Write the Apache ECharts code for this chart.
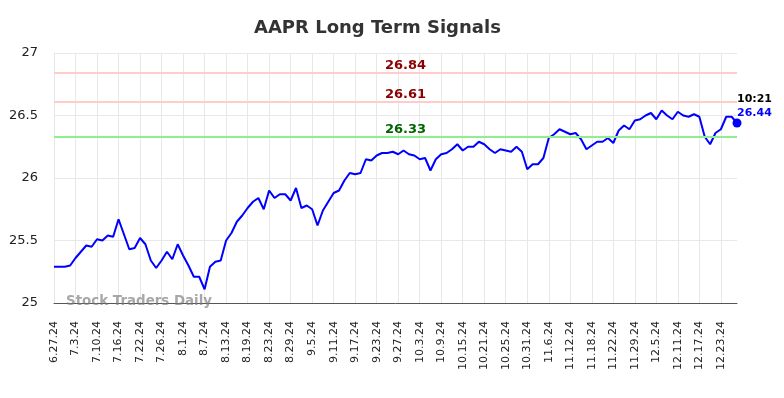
<!DOCTYPE html>
<html>
<head>
<meta charset="utf-8">
<title>AAPR Long Term Signals</title>
<script src="https://cdn.jsdelivr.net/npm/echarts@6/dist/echarts.min.js"></script>
<style>
    html, body { margin: 0; padding: 0; background: #fff; }
    #chart { width: 784px; height: 398px; }
</style>
</head>
<body>
<div id="chart"></div>
<script>
// trading days shown on the x axis
const dates = [
    "6.27.24", "6.28.24",
    "7.1.24", "7.2.24", "7.3.24", "7.5.24", "7.8.24", "7.9.24", "7.10.24", "7.11.24", "7.12.24",
    "7.15.24", "7.16.24", "7.17.24", "7.18.24", "7.19.24", "7.22.24", "7.23.24", "7.24.24", "7.25.24",
    "7.26.24", "7.29.24", "7.30.24", "7.31.24",
    "8.1.24", "8.2.24", "8.5.24", "8.6.24", "8.7.24", "8.8.24", "8.9.24", "8.12.24", "8.13.24",
    "8.14.24", "8.15.24", "8.16.24", "8.19.24", "8.20.24", "8.21.24", "8.22.24", "8.23.24", "8.26.24",
    "8.27.24", "8.28.24", "8.29.24", "8.30.24",
    "9.3.24", "9.4.24", "9.5.24", "9.6.24", "9.9.24", "9.10.24", "9.11.24", "9.12.24", "9.13.24",
    "9.16.24", "9.17.24", "9.18.24", "9.19.24", "9.20.24", "9.23.24", "9.24.24", "9.25.24", "9.26.24",
    "9.27.24", "9.30.24",
    "10.1.24", "10.2.24", "10.3.24", "10.4.24", "10.7.24", "10.8.24", "10.9.24", "10.10.24", "10.11.24",
    "10.14.24", "10.15.24", "10.16.24", "10.17.24", "10.18.24", "10.21.24", "10.22.24", "10.23.24",
    "10.24.24", "10.25.24", "10.28.24", "10.29.24", "10.30.24", "10.31.24",
    "11.1.24", "11.4.24", "11.5.24", "11.6.24", "11.7.24", "11.8.24", "11.11.24", "11.12.24", "11.13.24",
    "11.14.24", "11.15.24", "11.18.24", "11.19.24", "11.20.24", "11.21.24", "11.22.24", "11.25.24",
    "11.26.24", "11.27.24", "11.29.24",
    "12.2.24", "12.3.24", "12.4.24", "12.5.24", "12.6.24", "12.9.24", "12.10.24", "12.11.24", "12.12.24",
    "12.13.24", "12.16.24", "12.17.24", "12.18.24", "12.19.24", "12.20.24", "12.23.24", "12.24.24",
    "12.26.24", "12.27.24"
];

// closing prices
const prices = [
    25.29, 25.29, 25.29, 25.30, 25.36, 25.41, 25.46, 25.45, 25.51, 25.50,
    25.54, 25.53, 25.67, 25.55, 25.43, 25.44, 25.52, 25.47, 25.34, 25.28,
    25.34, 25.41, 25.35, 25.47, 25.38, 25.30, 25.21, 25.21, 25.11, 25.29,
    25.33, 25.34, 25.50, 25.56, 25.65, 25.70, 25.76, 25.81, 25.84, 25.75,
    25.90, 25.84, 25.87, 25.87, 25.82, 25.92, 25.76, 25.78, 25.75, 25.62,
    25.74, 25.81, 25.88, 25.90, 25.98, 26.04, 26.03, 26.04, 26.15, 26.14,
    26.18, 26.20, 26.20, 26.21, 26.19, 26.22, 26.19, 26.18, 26.15, 26.16,
    26.06, 26.15, 26.19, 26.20, 26.23, 26.27, 26.22, 26.25, 26.25, 26.29,
    26.27, 26.23, 26.20, 26.23, 26.22, 26.21, 26.25, 26.21, 26.07, 26.11,
    26.11, 26.16, 26.32, 26.35, 26.39, 26.37, 26.35, 26.36, 26.31, 26.23,
    26.26, 26.29, 26.29, 26.32, 26.28, 26.38, 26.42, 26.39, 26.46, 26.47,
    26.50, 26.52, 26.47, 26.54, 26.50, 26.47, 26.53, 26.50, 26.49, 26.51,
    26.49, 26.33, 26.27, 26.36, 26.39, 26.49, 26.49, 26.44
];

// signal levels
const resistLevels = [26.84, 26.61];
const supportLevels = [26.33];
const yTicks = [25, 25.5, 26, 26.5, 27];
const lastTime = "10:21";

const font = "DejaVu Sans";
const chart = echarts.init(document.getElementById("chart"));

const lastIdx = prices.length - 1;
const seriesData = prices.map((v, i) => {
    if (i !== lastIdx) return v;
    // last point gets the dot and the time / price label
    return {
        value: v,
        symbol: "circle",
        symbolSize: 9,
        itemStyle: { color: "#0000ff" },
        label: {
            show: true,
            position: "top",
            align: "left",
            distance: -2,
            fontFamily: font,
            formatter: () => "{t|" + lastTime + "}\n{v|" + v.toFixed(2) + "}",
            rich: {
                t: { color: "#000", fontWeight: "bold", fontSize: 11, fontFamily: font, lineHeight: 14 },
                v: { color: "#0000ff", fontWeight: "bold", fontSize: 11, fontFamily: font, lineHeight: 14 }
            }
        }
    };
});

const levelLine = (val, lineColor, textColor) => ({
    yAxis: val,
    lineStyle: { color: lineColor, width: 2, type: "solid" },
    label: {
        show: true,
        position: "insideMiddleTop",
        formatter: val.toFixed(2),
        color: textColor,
        fontWeight: "bold",
        fontSize: 13,
        fontFamily: font,
        distance: 1,
        offset: [10, 0]
    }
});

chart.setOption({
    animation: false,
    backgroundColor: "#fff",
    title: {
        text: "AAPR Long Term Signals",
        left: 249,
        top: 14,
        textStyle: { fontFamily: font, fontSize: 18, fontWeight: "bold", color: "#333" }
    },
    grid: { left: 54, right: 47, top: 53, bottom: 95 },
    xAxis: {
        type: "category",
        data: dates,
        boundaryGap: false,
        axisLine: { lineStyle: { color: "#555", width: 1 } },
        axisTick: { show: false },
        axisLabel: {
            interval: 3,
            rotate: 90,
            fontFamily: font,
            fontSize: 11,
            color: "#222",
            margin: 18
        },
        splitLine: { show: true, interval: 3, lineStyle: { color: "#e8e8e8", width: 1 } }
    },
    yAxis: {
        type: "value",
        min: yTicks[0],
        max: yTicks[yTicks.length - 1],
        interval: 0.5,
        axisLine: { show: false },
        axisTick: { show: false },
        axisLabel: { fontFamily: font, fontSize: 13, color: "#222", margin: 16 },
        splitLine: { lineStyle: { color: "#e8e8e8", width: 1 } }
    },
    graphic: [{
        type: "text",
        left: 66,
        top: 295,
        style: {
            text: "Stock Traders Daily",
            fontFamily: font,
            fontSize: 13.4,
            fontWeight: "bold",
            fill: "rgba(120,120,120,0.65)"
        },
        z: 10
    }],
    series: [{
        type: "line",
        data: seriesData,
        symbol: "none",
        showAllSymbol: true,
        lineStyle: { color: "#0000ff", width: 2 },
        itemStyle: { color: "#0000ff" },
        labelLayout: { hideOverlap: false },
        markLine: {
            silent: true,
            symbol: "none",
            data: [
                ...resistLevels.map(v => levelLine(v, "#ffcccc", "#8b0000")),
                ...supportLevels.map(v => levelLine(v, "#90ee90", "#006400"))
            ]
        }
    }]
});
</script>
</body>
</html>
